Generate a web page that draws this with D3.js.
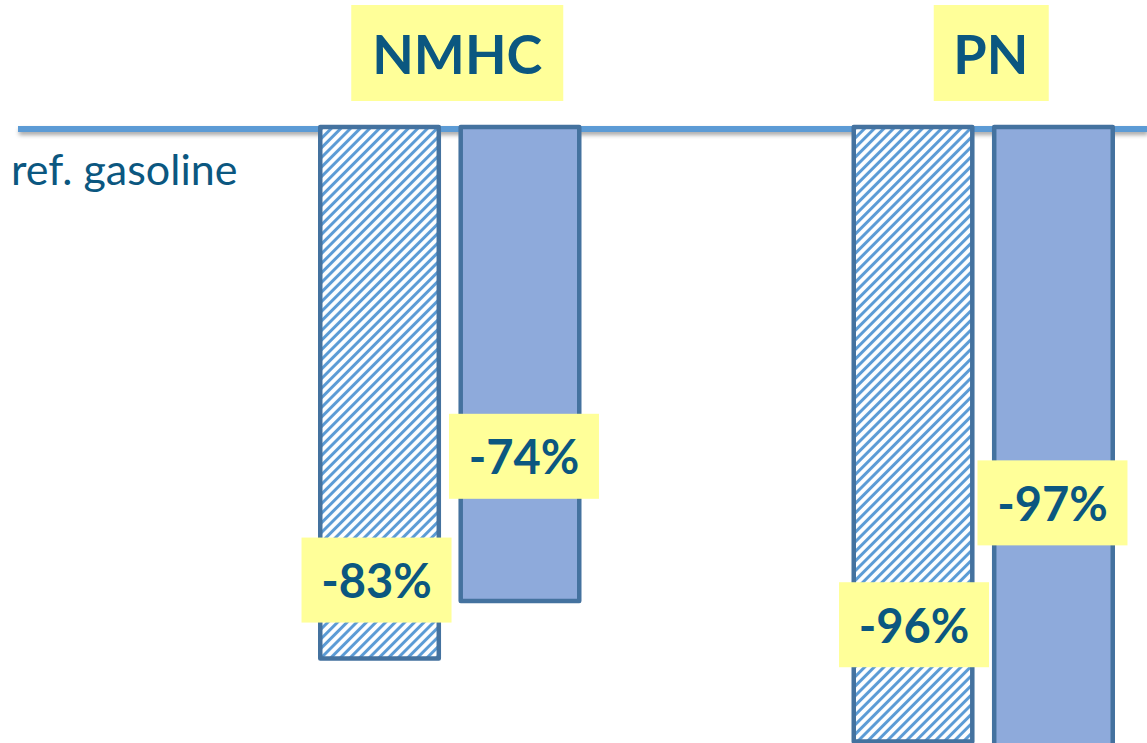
<!DOCTYPE html>
<html>
<head>
<meta charset="utf-8">
<script src="https://cdn.jsdelivr.net/npm/d3@7"></script>
<style>
  html, body { margin: 0; padding: 0; background: #ffffff; }
  svg { display: block; }
</style>
</head>
<body>
<svg id="chart" width="1147" height="743"></svg>
<script>
// Emission change vs. the gasoline reference, per pollutant
const categories = ["NMHC", "PN"];
const series = ["hatched", "solid"];
const values = {
  NMHC: [-83, -74],
  PN: [-96, -97]
};
const valueLabels = {
  NMHC: ["-83%", "-74%"],
  PN: ["-96%", "-97%"]
};
const refLabel = "ref. gasoline";

// Where each value badge sits along its bar (in % units)
const labelAnchor = {
  NMHC: [-70.7, -51.3],
  PN: [-77.7, -58.6]
};

const W = 1147, H = 743;
const svg = d3.select("#chart");
const FONT = "Lato, 'Open Sans', sans-serif";
const TEXT = "#0b5780";
const BADGE = "#ffff99";
const EDGE = "#44729f";
const STRIPE = "#5b9bd5";
const FILL = "#8eaadb";

const defs = svg.append("defs");
const P = 6.8;
const pat = defs.append("pattern")
  .attr("id", "hatch")
  .attr("patternUnits", "userSpaceOnUse")
  .attr("width", P).attr("height", P)
  .attr("patternTransform", "rotate(45)");
pat.append("rect").attr("width", P).attr("height", P).attr("fill", "#ffffff");
pat.append("line")
  .attr("x1", P / 2).attr("y1", 0).attr("x2", P / 2).attr("y2", P)
  .attr("stroke", STRIPE).attr("stroke-width", 3);

const shadow = defs.append("filter").attr("id", "lineShadow")
  .attr("filterUnits", "userSpaceOnUse")
  .attr("x", 0).attr("y", 100).attr("width", W).attr("height", 60);
shadow.append("feDropShadow")
  .attr("dx", 1).attr("dy", 3).attr("stdDeviation", 2)
  .attr("flood-color", "#000").attr("flood-opacity", 0.35);

// Scales
const x0 = d3.scaleBand().domain(categories).range([183, 1250]).padding(0);
const x1 = d3.scaleBand().domain(series).range([0, 259]).paddingInner(0.156);
const y = d3.scaleLinear().domain([0, -100]).range([129, 767]);

// Reference (0 %) line
svg.append("rect")
  .attr("x", 18).attr("width", W - 18)
  .attr("y", y(0) - 3).attr("height", 6)
  .attr("fill", STRIPE)
  .attr("filter", "url(#lineShadow)");

svg.append("text")
  .attr("x", 11).attr("y", 185)
  .attr("font-family", FONT).attr("font-size", 43)
  .attr("fill", TEXT)
  .text(refLabel);

const groups = svg.selectAll("g.cat")
  .data(categories).enter().append("g")
  .attr("class", "cat")
  .attr("transform", d => `translate(${x0(d) + x0.bandwidth() / 2 - 129.5},0)`);

// Bars
groups.selectAll("rect.bar")
  .data(c => series.map((s, i) => ({ cat: c, s, i, v: values[c][i] })))
  .enter().append("rect")
  .attr("class", "bar")
  .attr("x", d => x1(d.s))
  .attr("width", x1.bandwidth())
  .attr("y", d => y(0) - 2)
  .attr("height", d => y(d.v) - y(0) + 2)
  .attr("fill", d => d.s === "hatched" ? "url(#hatch)" : FILL)
  .attr("stroke", EDGE)
  .attr("stroke-width", 4.5)
  .attr("stroke-linejoin", "round");

// Value badges
const badgeW = 150, badgeH = 85;
const badges = groups.selectAll("g.badge")
  .data(c => series.map((s, i) => ({ cat: c, s, i, label: valueLabels[c][i], at: labelAnchor[c][i] })))
  .enter().append("g")
  .attr("class", "badge")
  .attr("transform", d => `translate(${x1(d.s) + x1.bandwidth() / 2 + (d.cat === "NMHC" ? (d.i ? 4 : -3) : (d.i ? -1 : 1))},${y(d.at)})`);
badges.append("rect")
  .attr("x", -badgeW / 2).attr("y", -badgeH / 2)
  .attr("width", badgeW).attr("height", badgeH)
  .attr("fill", BADGE);
badges.append("text")
  .attr("text-anchor", "middle")
  .attr("y", 18)
  .attr("font-family", FONT).attr("font-weight", 700).attr("font-size", 47)
  .attr("fill", TEXT)
  .text(d => d.label);

// Category titles
const titles = groups.append("g")
  .attr("transform", "translate(137,0)");
titles.append("rect")
  .attr("x", c => c === "NMHC" ? -106 : -57)
  .attr("width", c => c === "NMHC" ? 212 : 115)
  .attr("y", 5).attr("height", 96)
  .attr("fill", BADGE);
titles.append("text")
  .attr("text-anchor", "middle")
  .attr("y", 74)
  .attr("font-family", FONT).attr("font-weight", 700).attr("font-size", 54)
  .attr("fill", TEXT)
  .text(c => c);
</script>
</body>
</html>
